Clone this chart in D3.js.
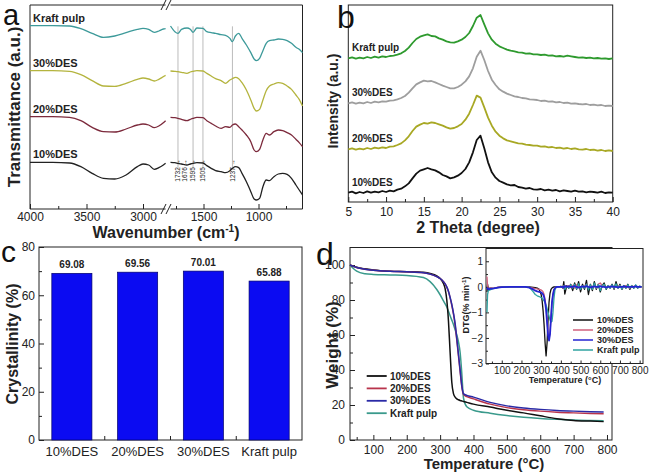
<!DOCTYPE html>
<html><head><meta charset="utf-8">
<script src="https://cdn.jsdelivr.net/npm/d3@7"></script>
<style>body{margin:0;background:#fff}</style>
</head><body>
<svg id="c" width="650" height="472"></svg>
<script>
// ---------------- DATA ----------------
// (a) FTIR
const ftirSamples = ["Kraft pulp", "30%DES", "20%DES", "10%DES"];
const ftirWnLeft = [4000, 3800, 3650, 3550, 3450, 3350, 3250, 3150, 3050, 3000, 2950, 2900, 2860, 2820, 2800];
const ftirKraftL = [550, 550, 549, 541, 527, 515, 519, 529, 539, 542, 539, 530, 534, 540, 541];
const ftir30L = [415, 415, 413, 403, 385, 369, 368, 377, 389, 393, 390, 384, 389, 397, 401];
const ftir20L = [277, 277, 275, 265, 245, 232, 231, 240, 252, 255, 252, 244, 249, 259, 265];
const ftir10L = [140, 140, 138, 127, 107, 92, 90, 102, 127, 135, 132, 119, 124, 132, 137];
const ftirWnRight = [1800, 1760, 1732, 1700, 1650, 1620, 1595, 1560, 1505, 1470, 1430, 1390, 1340, 1300, 1260, 1237, 1210, 1180, 1150, 1110, 1070, 1040, 1020, 990, 960, 930, 900, 860, 820, 780, 740, 700, 660, 630, 600];
const ftirKraftR = [549, 532, 527, 539, 543, 539, 530, 543, 542, 532, 529, 527, 523, 521, 512, 502, 519, 527, 512, 492, 469, 450, 445, 452, 475, 497, 505, 507, 510, 509, 505, 497, 485, 479, 469];
const ftir30R = [414, 413, 412, 410, 407, 411, 413, 415, 414, 407, 399, 391, 385, 377, 387, 391, 395, 391, 379, 357, 327, 302, 294, 299, 327, 355, 369, 375, 379, 377, 369, 359, 342, 329, 309];
const ftir20R = [275, 274, 272, 269, 265, 269, 272, 275, 274, 265, 257, 249, 242, 247, 245, 252, 255, 247, 237, 222, 202, 177, 172, 179, 207, 227, 222, 232, 237, 235, 229, 222, 209, 199, 187];
const ftir10R = [140, 139, 137, 135, 132, 135, 137, 139, 138, 130, 122, 115, 112, 109, 115, 122, 127, 124, 107, 82, 52, 30, 27, 32, 67, 87, 85, 97, 105, 107, 104, 92, 72, 57, 42];
const ftirMarkLines = [1732, 1595, 1505, 1237];
const ftirMarkLabels = [1732, 1676, 1595, 1505, 1237];
const ftirTicksLeft = [4000, 3500, 3000];
const ftirTicksRight = [1500, 1000];

// (b) XRD
const xrdSamples = ["Kraft pulp", "30%DES", "20%DES", "10%DES"];
const xrdAngle = [5,5.5,6,6.5,7,7.5,8,8.5,9,9.5,10,10.5,11,11.5,12,12.5,13,13.5,14,14.5,15,15.5,16,16.5,17,17.5,18,18.5,19,19.5,20,20.5,21,21.5,22,22.5,23,23.5,24,24.5,25,25.5,26,26.5,27,27.5,28,28.5,29,29.5,30,30.5,31,31.5,32,32.5,33,33.5,34,34.5,35,35.5,36,36.5,37,37.5,38,38.5,39,39.5,40];
const xrd10 = [27,30,25,29,26,31,27,30,28,32, 29,33,31,36,39,46,55,70,84,93, 97,101,97,94,88,80,76,70,73,78, 86,98,118,148,185,198,160,118,88,72, 62,57,52,49,50,44,42,39,41,37, 36,38,34,36,33,35,31,34,32,30, 33,30,31,28,30,29,27,30,26,28, 27];
const xrd20 = [157,160,156,159,157,161,158,162,160,163, 161,165,166,170,175,184,196,212,225,231, 236,234,238,236,232,228,223,219,221,226, 233,246,264,290,318,312,283,252,228,210, 198,190,184,181,178,175,174,171,170,168, 168,165,166,163,164,161,162,159,161,158, 160,157,156,158,155,156,153,155,152,154, 152];
const xrd30 = [295,298,294,297,295,299,296,300,298,301, 300,303,304,307,311,317,327,340,352,358, 363,361,362,358,353,348,344,340,340,344, 351,361,376,400,435,453,425,392,366,350, 337,330,324,320,316,314,311,310,307,306, 305,302,303,300,301,298,299,296,297,294, 295,293,292,293,290,291,289,290,287,288, 287];
const xrdKraft = [430,433,429,432,430,434,431,435,432,436, 434,437,438,441,445,452,462,476,488,495, 499,502,497,496,490,486,481,478,477,481, 486,494,506,527,552,560,532,505,486,474, 466,461,456,453,451,448,447,444,445,442, 442,440,441,438,439,436,437,435,438,436, 434,432,433,431,432,430,431,429,430,428, 430];
const xrdTicks = [5, 10, 15, 20, 25, 30, 35, 40];

// (c) Crystallinity
const crCategories = ["10%DES", "20%DES", "30%DES", "Kraft pulp"];
const crValues = [69.08, 69.56, 70.01, 65.88];
const crTicks = [0, 20, 40, 60, 80];

// (d) TGA
const tgaSamples = ["10%DES", "20%DES", "30%DES", "Kraft pulp"];
const tgaT = [30, 40, 50, 75, 100, 150, 200, 250, 270, 290, 300, 310, 315, 320, 325, 330, 335, 340, 345, 350, 355, 360, 365, 370, 380, 400, 450, 500, 550, 600, 650, 700, 750, 790];
const tga10 = [100, 99.3, 98.7, 97.8, 97.2, 96.5, 96.2, 95.8, 95.2, 93.8, 92.3, 89.5, 86.5, 80, 68, 50, 33, 26.5, 24.5, 23.5, 23, 22.6, 22.3, 22, 21.5, 20.5, 18.8, 17, 15.5, 13.8, 12.2, 11.2, 10.8, 10.5];
const tga20 = [100, 99.3, 98.6, 97.6, 97, 96.4, 96.1, 95.6, 94.8, 93.4, 92.3, 90.5, 89.2, 87.3, 84.8, 81.2, 77, 72, 65.5, 57, 48, 39, 30.5, 26, 24.8, 23.5, 20.5, 18.5, 17.3, 16.5, 15.9, 15.5, 15.2, 15];
const tga30 = [100, 99.3, 98.6, 97.6, 97, 96.4, 96.1, 95.6, 94.8, 93.4, 92.3, 90.5, 89.2, 87.5, 85, 81.5, 77.5, 72.5, 66.5, 58, 49, 40, 31, 26.5, 25.5, 24.5, 21.5, 19.5, 18.3, 17.5, 16.9, 16.5, 16.2, 16];
const tgaKraft = [100, 98, 96.5, 95, 94.6, 94.3, 94, 92.8, 90.5, 86, 83, 79.5, 77.8, 76, 73.5, 71, 68.5, 66, 63, 60, 56, 50, 38, 24, 19, 17, 15.3, 14, 13, 12.3, 11.8, 11.4, 11.1, 11];
const tgaXTicks = [100, 200, 300, 400, 500, 600, 700, 800];
const tgaYTicks = [0, 20, 40, 60, 80, 100];

// (d inset) DTG
const dtgT = [25, 28, 32, 40, 60, 80, 100, 150, 200, 220, 240, 260, 270, 280, 290, 300, 305, 310, 315, 320, 325, 330, 335, 340, 345, 350, 355, 360, 365, 370, 375, 380, 390, 400, 410, 415, 420, 430, 440, 450, 460, 470, 480, 490, 500, 510, 520, 530, 540, 550, 560, 570, 580, 590, 600, 610, 620, 630, 640, 650, 660, 670, 680, 690, 700, 710, 720, 730, 740, 750, 760, 770, 780, 790, 800, 810];
const dtg10 = [-0.2,0.1,-0.1,-0.05,-0.06,-0.02,0,0,0,0, 0,-0.02,-0.03,-0.05,-0.1,-0.3,-0.55,-0.95,-1.5,-2.2, -2.7,-2.2,-1.3,-0.6,-0.25,-0.1,-0.05,-0.02,0,0, 0,0,0,0.02,-0.05,0.2,-0.28,0.05,-0.05,0.1, -0.15,0.15,-0.1,0.2,-0.2,0.1,-0.1,0.25,-0.3,0.1, -0.15,0.2,-0.1,0.1,-0.2,0.05,0.15,-0.1,0.05,-0.05, 0.1,-0.1,0.2,-0.05,0.1,-0.1,0.05,-0.05,0.1,-0.1, 0.05,-0.05,0.05,-0.05,0.02,0];
const dtg20 = [0.4,0.05,-0.1,-0.05,-0.04,-0.02,0,0,0,0, -0.02,-0.05,-0.07,-0.08,-0.1,-0.12,-0.15,-0.2,-0.3,-0.5, -0.8,-1.3,-1.8,-2.05,-1.8,-1.2,-0.6,-0.3,-0.12,-0.05, -0.02,0,0,0,0.03,-0.05,0.05,0,0.05,-0.03, 0.05,-0.05,0.08,0,-0.05,0.05,0,0.1,-0.05,0.05, 0,0.05,-0.05,0.1,0.15,0.05,0.05,-0.05,0.05,0, 0.05,-0.05,0.05,0,0.05,-0.05,0,0.05,0,-0.05, 0.05,0,0.05,0,0,0];
const dtg30 = [-0.1,-0.05,-0.1,-0.08,-0.06,-0.03,-0.01,0,0,0, -0.03,-0.1,-0.15,-0.18,-0.2,-0.22,-0.25,-0.3,-0.4,-0.6, -0.9,-1.4,-1.9,-2.1,-1.85,-1.2,-0.6,-0.3,-0.12,-0.05, -0.02,0,0,0,0,-0.03,0.03,0,0.02,0, 0,0.03,0,-0.03,0,0.02,0,0.03,0,-0.02, 0,0.02,0,0,0.03,0,0,-0.02,0,0, 0.02,0,0,-0.02,0,0,0.02,0,0,0, 0,0,0.02,0,0,0];
const dtgKraft = [-1.0,-0.3,-0.15,-0.12,-0.06,-0.03,-0.01,0,0,0, -0.02,-0.2,-0.3,-0.35,-0.38,-0.42,-0.45,-0.5,-0.55,-0.62, -0.72,-0.85,-1.0,-1.15,-1.3,-1.38,-1.35,-1.0,-0.45,-0.12, -0.03,0,0,0.02,-0.02,0.05,-0.1,0.02,-0.05,0.08, -0.05,0.1,-0.08,0.12,-0.1,0.05,-0.05,0.1,-0.12,0.08, -0.1,0.15,-0.05,0.08,-0.15,0.05,0.1,-0.08,0.05,-0.05, 0.08,-0.05,0.12,-0.05,0.05,-0.08,0.05,-0.05,0.08,-0.05, 0.05,-0.05,0.08,-0.05,0.03,0];
const dtgXTicks = [100, 200, 300, 400, 500, 600, 700, 800];
const dtgYTicks = [-3, -2, -1, 0, 1];

// ---------------- DRAWING ----------------
const FONT = "'Liberation Sans', Arial, Helvetica, sans-serif";
const INK = "#222";
const fmtInt = d3.format("d");
const svg = d3.select("#c").attr("font-family", FONT);

function styleAxis(g, fs) {
  g.attr("font-family", FONT).attr("font-size", fs);
  g.select(".domain").remove();
  g.selectAll(".tick line").attr("stroke", INK).attr("stroke-width", 1);
  g.selectAll(".tick text").attr("fill", INK);
  return g;
}
function hline(x0, x1, y) { svg.append("line").attr("x1", x0).attr("x2", x1).attr("y1", y).attr("y2", y).attr("stroke", INK).attr("stroke-width", 1); }
function vline(x, y0, y1) { svg.append("line").attr("x1", x).attr("x2", x).attr("y1", y0).attr("y2", y1).attr("stroke", INK).attr("stroke-width", 1); }
function rotText(x, y, txt, fs, weight) {
  return svg.append("text").attr("transform", `translate(${x},${y}) rotate(-90)`)
    .attr("text-anchor", "middle").attr("font-size", fs).attr("font-weight", weight || "bold").attr("fill", INK).text(txt);
}
function panelLabel(x, y, t, fs) {
  svg.append("text").attr("x", x).attr("y", y).attr("font-size", fs).attr("fill", "#111").text(t);
}
function zip(xs, ys) { return xs.map((x, i) => [x, ys[i]]); }

// ===== Panel a =====
const aXL = d3.scaleLinear().domain([4000, 2800]).range([30, 165.6]);
const aXR = d3.scaleLinear().domain([1800, 600]).range([170.5, 302.5]);
const aY = d3.scaleLinear().domain([0, 612]).range([209, 5]);
const aTop = 5, aBot = 209;
vline(30, aTop, aBot); vline(302.5, aTop, aBot);
hline(30, 165.6, aBot); hline(170.5, 302.5, aBot);
hline(30, 165.6, aTop); hline(170.5, 302.5, aTop);
[aBot, aTop].forEach(yy => {
  [163.5, 168.5].forEach(xx => {
    svg.append("line").attr("x1", xx - 2.5).attr("x2", xx + 2.5).attr("y1", yy + 5).attr("y2", yy - 5).attr("stroke", INK).attr("stroke-width", 1);
  });
});
styleAxis(svg.append("g").attr("transform", `translate(0,${aBot})`).call(d3.axisBottom(aXL).tickValues(ftirTicksLeft).tickFormat(fmtInt).tickSize(-5).tickSizeOuter(0).tickPadding(3)), 12);
styleAxis(svg.append("g").attr("transform", `translate(0,${aBot})`).call(d3.axisBottom(aXR).tickValues(ftirTicksRight).tickFormat(fmtInt).tickSize(-5).tickSizeOuter(0).tickPadding(3)), 12);
styleAxis(svg.append("g").attr("transform", `translate(0,${aBot})`).call(d3.axisBottom(aXL).tickValues([3750, 3250]).tickSize(-3).tickSizeOuter(0).tickFormat("")), 12);
styleAxis(svg.append("g").attr("transform", `translate(0,${aBot})`).call(d3.axisBottom(aXR).tickValues([1750, 1250, 750]).tickSize(-3).tickSizeOuter(0).tickFormat("")), 12);

// marker lines
ftirMarkLines.forEach(w => {
  svg.append("line").attr("x1", aXR(w)).attr("x2", aXR(w)).attr("y1", aY(548)).attr("y2", aY(118))
    .attr("stroke", "#bbb").attr("stroke-width", 1);
});
ftirMarkLabels.forEach(w => {
  svg.append("text").attr("transform", `translate(${aXR(w) + 2.4},${aY(82)}) rotate(-90)`)
    .attr("font-size", 6.5).attr("fill", INK).text(w + " \u2192");
});

const ftirColors = { "Kraft pulp": "#3d9a9a", "30%DES": "#b4b43e", "20%DES": "#7c2a3c", "10%DES": "#222" };
const ftirData = {
  "Kraft pulp": [ftirKraftL, ftirKraftR], "30%DES": [ftir30L, ftir30R],
  "20%DES": [ftir20L, ftir20R], "10%DES": [ftir10L, ftir10R]
};
const lineAL = d3.line().x(d => aXL(d[0])).y(d => aY(d[1])).curve(d3.curveMonotoneX);
const lineAR = d3.line().x(d => aXR(d[0])).y(d => aY(d[1])).curve(d3.curveMonotoneX);
ftirSamples.forEach(s => {
  svg.append("path").attr("d", lineAL(zip(ftirWnLeft, ftirData[s][0]))).attr("fill", "none").attr("stroke", ftirColors[s]).attr("stroke-width", 1.3);
  svg.append("path").attr("d", lineAR(zip(ftirWnRight, ftirData[s][1]))).attr("fill", "none").attr("stroke", ftirColors[s]).attr("stroke-width", 1.3);
  svg.append("text").attr("x", 33).attr("y", aY(ftirData[s][0][0]) - 4).attr("font-size", 11).attr("font-weight", "bold").attr("fill", INK).text(s);
});
const aT = svg.append("text").attr("x", 166).attr("y", 238).attr("text-anchor", "middle").attr("font-size", 16).attr("font-weight", "bold").attr("fill", INK);
aT.append("tspan").text("Wavenumber (cm");
aT.append("tspan").attr("dy", -6).attr("font-size", 10).text("-1");
aT.append("tspan").attr("dy", 6).text(")");
rotText(20, 107, "Transmittance (a.u.)", 17);
panelLabel(3, 25, "a", 29);

// ===== Panel b =====
const bX = d3.scaleLinear().domain([5, 40]).range([348.3, 612.7]);
const bY = d3.scaleLinear().domain([0, 600]).range([201.67, 1.67]);
svg.append("rect").attr("x", 348.3).attr("y", 5).attr("width", 612.7 - 348.3).attr("height", 202 - 5).attr("fill", "none").attr("stroke", INK);
styleAxis(svg.append("g").attr("transform", "translate(0,202)").call(d3.axisBottom(bX).tickValues(xrdTicks).tickSize(-5).tickSizeOuter(0).tickPadding(5)), 12);
styleAxis(svg.append("g").attr("transform", "translate(0,202)").call(d3.axisBottom(bX).tickValues([7.5, 12.5, 17.5, 22.5, 27.5, 32.5, 37.5]).tickSize(-3).tickSizeOuter(0).tickFormat("")), 12);
const xrdColors = { "Kraft pulp": "#2e9a2e", "30%DES": "#9e9e9e", "20%DES": "#a8a824", "10%DES": "#111" };
const xrdData = { "Kraft pulp": xrdKraft, "30%DES": xrd30, "20%DES": xrd20, "10%DES": xrd10 };
const lineB = d3.line().x(d => bX(d[0])).y(d => bY(d[1]));
xrdSamples.forEach(s => {
  svg.append("path").attr("d", lineB(zip(xrdAngle, xrdData[s]))).attr("fill", "none").attr("stroke", xrdColors[s]).attr("stroke-width", 1.8).attr("stroke-linejoin", "round");
  svg.append("text").attr("x", 352).attr("y", bY(xrdData[s][0]) - 7).attr("font-size", 10).attr("font-weight", "bold").attr("fill", INK).text(s);
});
svg.append("text").attr("x", 478).attr("y", 233).attr("text-anchor", "middle").attr("font-size", 16).attr("font-weight", "bold").attr("fill", INK).text("2 Theta  (degree)");
rotText(338, 101, "Intensity (a.u.)", 14);
panelLabel(337, 28, "b", 32);

// ===== Panel c =====
const cX = d3.scaleBand().domain(crCategories).range([39, 302]).paddingInner(0.39).paddingOuter(0.195);
const cY = d3.scaleLinear().domain([0, 80]).range([440, 247]);
svg.append("rect").attr("x", 39).attr("y", 247).attr("width", 302 - 39).attr("height", 440 - 247).attr("fill", "none").attr("stroke", INK);
styleAxis(svg.append("g").attr("transform", "translate(39,0)").call(d3.axisLeft(cY).tickValues(crTicks).tickSize(-5).tickSizeOuter(0).tickPadding(4)), 12);
styleAxis(svg.append("g").attr("transform", "translate(39,0)").call(d3.axisLeft(cY).tickValues([10, 30, 50, 70]).tickSize(-3).tickSizeOuter(0).tickFormat("")), 12);
svg.selectAll(".bar").data(crCategories).enter().append("rect")
  .attr("x", d => cX(d)).attr("width", cX.bandwidth())
  .attr("y", (d, i) => cY(crValues[i])).attr("height", (d, i) => cY(0) - cY(crValues[i]))
  .attr("fill", "#0b0bf2").attr("stroke", "#00006a").attr("stroke-width", 0.7);
svg.selectAll(".barlbl").data(crCategories).enter().append("text")
  .attr("x", d => cX(d) + cX.bandwidth() / 2).attr("y", (d, i) => cY(crValues[i]) - 5)
  .attr("text-anchor", "middle").attr("font-size", 10).attr("font-weight", "bold").attr("fill", INK)
  .text((d, i) => crValues[i].toFixed(2));
const cx0 = svg.append("g").attr("transform", "translate(0,440)").call(d3.axisBottom(cX).tickSize(0).tickPadding(7));
styleAxis(cx0, 13);
crCategories.slice(1).forEach(d => {
  const xb = cX(d) - cX.step() * cX.paddingInner() / 2;
  svg.append("line").attr("x1", xb).attr("x2", xb).attr("y1", 440).attr("y2", 436).attr("stroke", INK);
});
rotText(18, 344, "Crystallinity (%)", 16);
panelLabel(1, 262, "c", 30);

// ===== Panel d =====
const dX = d3.scaleLinear().domain([30, 815]).range([350, 612]);
const dY = d3.scaleLinear().domain([0, 110]).range([440, 247.5]);
svg.append("rect").attr("x", 350).attr("y", 247.5).attr("width", 612 - 350).attr("height", 440 - 247.5).attr("fill", "none").attr("stroke", INK);
styleAxis(svg.append("g").attr("transform", "translate(0,440)").call(d3.axisBottom(dX).tickValues(tgaXTicks).tickFormat(fmtInt).tickSize(-5).tickSizeOuter(0).tickPadding(5)), 12);
styleAxis(svg.append("g").attr("transform", "translate(0,440)").call(d3.axisBottom(dX).tickValues([50, 150, 250, 350, 450, 550, 650, 750]).tickSize(-3).tickSizeOuter(0).tickFormat("")), 12);
styleAxis(svg.append("g").attr("transform", "translate(350,0)").call(d3.axisLeft(dY).tickValues(tgaYTicks).tickFormat(fmtInt).tickSize(-5).tickSizeOuter(0).tickPadding(5)), 12);
styleAxis(svg.append("g").attr("transform", "translate(350,0)").call(d3.axisLeft(dY).tickValues([10, 30, 50, 70, 90]).tickSize(-3).tickSizeOuter(0).tickFormat("")), 12);
const tgaColors = { "10%DES": "#111", "20%DES": "#b8344c", "30%DES": "#2a2aa6", "Kraft pulp": "#3a9a8c" };
const tgaData = { "10%DES": tga10, "20%DES": tga20, "30%DES": tga30, "Kraft pulp": tgaKraft };
const lineD = d3.line().x(d => dX(d[0])).y(d => dY(d[1])).curve(d3.curveMonotoneX);
["Kraft pulp", "10%DES", "20%DES", "30%DES"].forEach(s => {
  svg.append("path").attr("d", lineD(zip(tgaT, tgaData[s]))).attr("fill", "none").attr("stroke", tgaColors[s]).attr("stroke-width", 1.5);
});
tgaSamples.forEach((s, i) => {
  const yy = 376 + i * 12.4;
  svg.append("line").attr("x1", 366.7).attr("x2", 386.7).attr("y1", yy).attr("y2", yy).attr("stroke", tgaColors[s]).attr("stroke-width", 1.8);
  svg.append("text").attr("x", 390).attr("y", yy + 3.6).attr("font-size", 10).attr("font-weight", "bold").attr("fill", INK).text(s);
});
svg.append("text").attr("x", 484).attr("y", 469).attr("text-anchor", "middle").attr("font-size", 15).attr("font-weight", "bold").attr("fill", INK).text("Temperature (\u00B0C)");
rotText(338, 345, "Weight (%)", 17);
panelLabel(316, 265, "d", 32);

// ----- inset -----
const iX = d3.scaleLinear().domain([20, 817]).range([486, 643]);
const iY = d3.scaleLinear().domain([-3, 1.5]).range([363.5, 248.5]);
svg.append("rect").attr("x", 486).attr("y", 248.5).attr("width", 643 - 486).attr("height", 363.5 - 248.5).attr("fill", "#fff").attr("stroke", INK);
svg.append("clipPath").attr("id", "insetClip").append("rect").attr("x", 486).attr("y", 248.5).attr("width", 157).attr("height", 115);
styleAxis(svg.append("g").attr("transform", "translate(0,363.5)").call(d3.axisBottom(iX).tickValues(dtgXTicks).tickFormat(fmtInt).tickSize(-3).tickSizeOuter(0).tickPadding(3)), 10);
styleAxis(svg.append("g").attr("transform", "translate(0,363.5)").call(d3.axisBottom(iX).tickValues([50, 150, 250, 350, 450, 550, 650, 750]).tickSize(-2).tickSizeOuter(0).tickFormat("")), 10);
styleAxis(svg.append("g").attr("transform", "translate(486,0)").call(d3.axisLeft(iY).tickValues(dtgYTicks).tickFormat(fmtInt).tickSize(-3).tickSizeOuter(0).tickPadding(3)), 10);
styleAxis(svg.append("g").attr("transform", "translate(486,0)").call(d3.axisLeft(iY).tickValues([-2.5, -1.5, -0.5, 0.5]).tickSize(-2).tickSizeOuter(0).tickFormat("")), 10);
const dtgColors = { "10%DES": "#111", "20%DES": "#d0607c", "30%DES": "#2424d2", "Kraft pulp": "#2fa3a0" };
const dtgData = { "10%DES": dtg10, "20%DES": dtg20, "30%DES": dtg30, "Kraft pulp": dtgKraft };
const lineI = d3.line().x(d => iX(d[0])).y(d => iY(d[1]));
const ig = svg.append("g").attr("clip-path", "url(#insetClip)");
["10%DES", "20%DES", "Kraft pulp", "30%DES"].forEach(s => {
  ig.append("path").attr("d", lineI(zip(dtgT, dtgData[s]))).attr("fill", "none").attr("stroke", dtgColors[s]).attr("stroke-width", s === "30%DES" ? 1.8 : 1.3).attr("stroke-linejoin", "round");
});
tgaSamples.forEach((s, i) => {
  const yy = 320 + i * 10;
  svg.append("line").attr("x1", 573).attr("x2", 593).attr("y1", yy).attr("y2", yy).attr("stroke", dtgColors[s]).attr("stroke-width", 1.5);
  svg.append("text").attr("x", 597).attr("y", yy + 3.2).attr("font-size", 9).attr("font-weight", "bold").attr("fill", INK).text(s);
});
svg.append("text").attr("x", 565).attr("y", 383).attr("text-anchor", "middle").attr("font-size", 9).attr("font-weight", "bold").attr("fill", INK).text("Temperature (\u00B0C)");
const iyT = svg.append("text").attr("transform", "translate(469,305) rotate(-90)").attr("text-anchor", "middle").attr("font-size", 9).attr("font-weight", "bold").attr("fill", INK);
iyT.append("tspan").text("DTG(% min");
iyT.append("tspan").attr("dy", -3).attr("font-size", 6).text("-1");
iyT.append("tspan").attr("dy", 3).text(")");
</script>
</body></html>
